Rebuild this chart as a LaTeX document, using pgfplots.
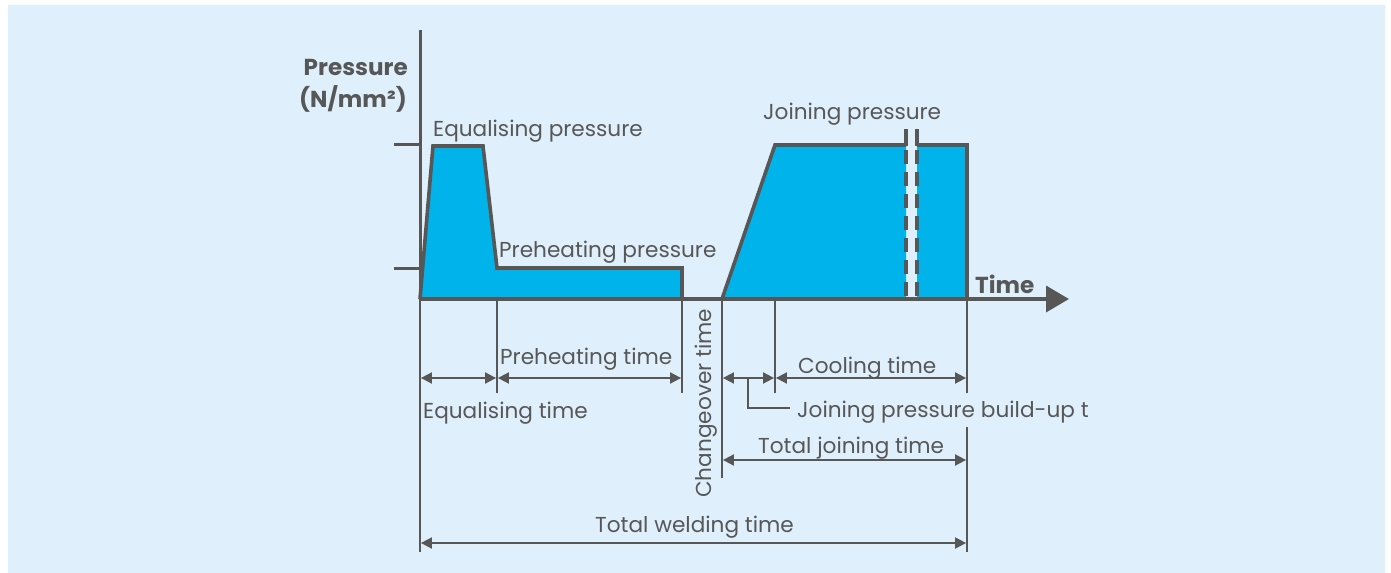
\documentclass[border=0pt]{standalone}
\usepackage{fontspec}
\setmainfont{Poppins}
\usepackage{pgfplots}
\pgfplotsset{compat=1.18}
\usetikzlibrary{arrows.meta}
\definecolor{bg}{HTML}{DFF0FC}
\definecolor{cyanfill}{HTML}{00B4EB}
\definecolor{ink}{HTML}{575757}
\begin{document}
\begin{tikzpicture}
\begin{axis}[width=1391bp, height=573bp, scale only axis,
  xmin=0, xmax=1391, ymin=0, ymax=573, y dir=reverse,
  hide axis, clip=false]
% page background
\addplot[fill=white, draw=none] coordinates {(0,0) (1391,0) (1391,573) (0,573) (0,0)};
\addplot[fill=bg, draw=none] coordinates {(8,5) (1385,5) (1385,573) (8,573) (8,5)};
% fills
\addplot[fill=cyanfill, draw=none] coordinates {(420,299) (433,146) (483,146) (497,268) (682,268) (682,299) (420,299)};
\addplot[fill=cyanfill, draw=none] coordinates {(722,299) (775,145) (906,145) (906,299) (722,299)};
\addplot[fill=cyanfill, draw=none] coordinates {(917,145) (967,145) (967,299) (917,299) (917,145)};
% outlines
\addplot[ink, line width=3.6bp, line join=miter] coordinates {(420,299) (433,146) (483,146) (497,268) (682,268) (682,299)};
\addplot[ink, line width=3.6bp, line join=miter] coordinates {(682,299) (722,299) (775,145) (906,145)};
\addplot[ink, line width=3.6bp] coordinates {(906,129) (906,146)};
\addplot[ink, line width=3.6bp] coordinates {(917,129) (917,146)};
\addplot[ink, line width=3.6bp, line join=miter] coordinates {(917,145) (967,145) (967,299)};
\addplot[ink, line width=3.6bp, dash pattern=on 14bp off 8bp] coordinates {(906,150) (906,299)};
\addplot[ink, line width=3.6bp, dash pattern=on 14bp off 8bp] coordinates {(917,150) (917,299)};
% axes
\addplot[ink, line width=3bp] coordinates {(420,30) (420,299)};
\addplot[ink, line width=3bp] coordinates {(394,145) (420,145)};
\addplot[ink, line width=3bp] coordinates {(394,268) (420,268)};
\addplot[ink, line width=3.6bp, -{Triangle[length=23bp,width=26bp]}] coordinates {(420,299) (1069,299)};
% extension lines
\addplot[ink, line width=1.8bp] coordinates {(420,299) (420,552)};
\addplot[ink, line width=1.8bp] coordinates {(497,299) (497,393)};
\addplot[ink, line width=1.8bp] coordinates {(682,299) (682,393)};
\addplot[ink, line width=1.8bp] coordinates {(722,299) (722,478)};
\addplot[ink, line width=1.8bp] coordinates {(775,299) (775,393)};
\addplot[ink, line width=1.8bp] coordinates {(967,299) (967,393)};
\addplot[ink, line width=1.8bp] coordinates {(967,427) (967,552)};
% dimension arrows
\pgfplotsset{dim/.style={ink, line width=1.8bp, {Triangle[length=11bp,width=11bp]}-{Triangle[length=11bp,width=11bp]}, shorten <=0.9bp, shorten >=0.9bp}}
\addplot[dim] coordinates {(420,378) (497,378)};
\addplot[dim] coordinates {(497,378) (682,378)};
\addplot[dim] coordinates {(722,378) (775,378)};
\addplot[dim] coordinates {(775,378) (967,378)};
\addplot[dim] coordinates {(722,460) (967,460)};
\addplot[dim] coordinates {(420,543) (967,543)};
% leader
\addplot[ink, line width=1.8bp] coordinates {(748,378) (748,408) (790,408)};
% texts
\tikzset{lab/.style={text=ink, inner sep=0pt, font=\fontsize{21.7}{26}\selectfont},
         blab/.style={text=ink, inner sep=0pt, font=\fontsize{23.2}{28}\selectfont\bfseries}}
\node[blab, anchor=base east] at (axis cs:408,76) {Pressure};
\node[blab, anchor=base east] at (axis cs:407,108) {(N/mm²)};
\node[blab, anchor=base west] at (axis cs:975,293) {Time};
\node[lab, anchor=base west] at (axis cs:433,137) {Equalising pressure};
\node[lab, anchor=base west] at (axis cs:499,257) {Preheating pressure};
\node[lab, anchor=base west] at (axis cs:763,120) {Joining pressure};
\node[lab, anchor=base west] at (axis cs:500,364) {Preheating time};
\node[lab, anchor=base west] at (axis cs:423,418) {Equalising time};
\node[lab, anchor=base west, rotate=90] at (axis cs:711,498) {Changeover time};
\node[lab, anchor=base west] at (axis cs:798,373) {Cooling time};
\node[lab, anchor=base west] at (axis cs:797,417) {Joining pressure build-up t};
\node[lab, anchor=base west] at (axis cs:758,453) {Total joining time};
\node[lab, anchor=base west] at (axis cs:595,532) {Total welding time};
\end{axis}
\end{tikzpicture}
\end{document}
